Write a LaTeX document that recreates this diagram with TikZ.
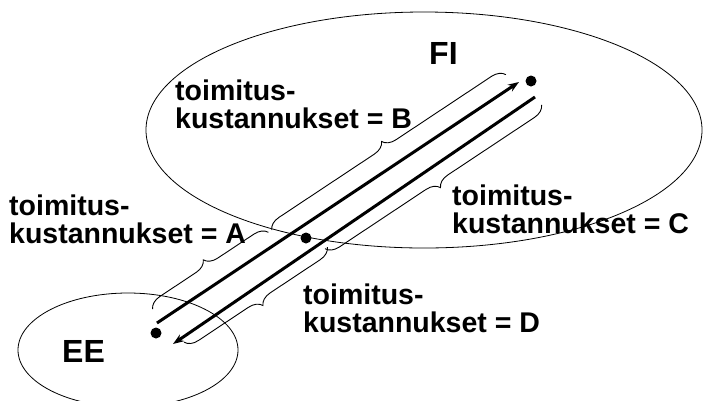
\documentclass[tikz,border=0pt]{standalone}
\usepackage{fontspec}
\setmainfont{Liberation Sans}
\usetikzlibrary{decorations.pathreplacing,arrows.meta}
\begin{document}
\begin{tikzpicture}[x=1pt,y=-1pt,
  region/.style={draw, line width=0.8pt},
  flow/.style={line width=3pt, -{Stealth[length=11pt,width=8pt]}},
  dotnode/.style={circle, fill, inner sep=0pt, minimum size=11pt},
  costbrace/.style={draw, line width=0.9pt, decorate, decoration={brace, amplitude=13pt}},
  cost/.style={font=\fontsize{28.5}{28}\selectfont\bfseries, align=left, anchor=base west, inner sep=0pt},
  country/.style={font=\fontsize{32}{36}\selectfont\bfseries, inner sep=0pt, anchor=base west}]
\useasboundingbox (0,0) rectangle (703,400);
% regions
\draw[region] (424,130) ellipse [x radius=278, y radius=118];
\draw[region] (128,350) ellipse [x radius=110, y radius=57];
% country labels
\node[country] (FI) at (429,64) {FI};
\node[country] (EE) at (62,362) {EE};
% points
\node[dotnode] (ee) at (156,333) {};
\node[dotnode] (fi) at (531,81) {};
\node[dotnode] (mid) at (306,238) {};
% flows
\coordinate (l1s) at (157,323);
\coordinate (l1e) at (519,82);
\coordinate (l2s) at (535,97);
\coordinate (l2e) at (173,344);
\draw[flow] (l1s) -- (l1e);
\draw[flow] (l2s) -- (l2e);
% braces
\coordinate (a1) at (152.6,309.1);
\coordinate (a2) at (268.4,232.3);
\coordinate (b1) at (271.7,230.0);
\coordinate (b2) at (505.9,74.6);
\coordinate (c1) at (541.6,104.9);
\coordinate (c2) at (325.0,248.7);
\coordinate (d1) at (327.4,247.1);
\coordinate (d2) at (184.1,342.2);
\draw[costbrace] (a1) -- (a2);
\draw[costbrace] (b1) -- (b2);
\draw[costbrace] (c1) -- (c2);
\draw[costbrace] (d1) -- (d2);
% cost labels
\node[cost] (tA) at (9,243) {toimitus-\\kustannukset = A};
\node[cost] (tB) at (175,128) {toimitus-\\kustannukset = B};
\node[cost] (tC) at (452,233) {toimitus-\\kustannukset = C};
\node[cost] (tD) at (303,332) {toimitus-\\kustannukset = D};
\end{tikzpicture}
\end{document}
